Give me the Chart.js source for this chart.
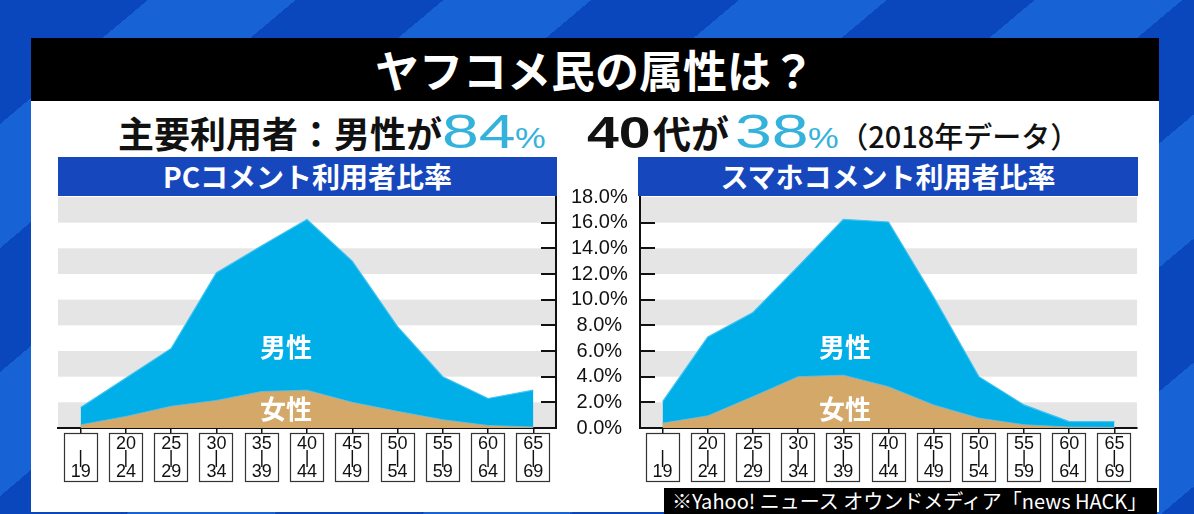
<!DOCTYPE html>
<html><head><meta charset="utf-8">
<script src="https://cdn.jsdelivr.net/npm/chart.js@4.4.0/dist/chart.umd.min.js"></script>
<style>
html,body{margin:0;padding:0;}
body{width:1194px;height:514px;overflow:hidden;position:relative;
 background:repeating-linear-gradient(140deg,#0b47bc 0px,#0b47bc 95px,#1762d4 95px,#1762d4 190px);
 font-family:"Noto Sans CJK JP","Noto Sans",sans-serif;}
.abs{position:absolute;}
#panel{left:31px;top:38px;width:1128px;height:474px;background:#fff;}
#titlebar{left:31px;top:38px;width:1128px;height:63px;background:#000;color:#fff;font-size:44px;font-weight:700;line-height:63px;text-align:center;}
#sub{left:118px;top:104px;height:54px;white-space:nowrap;color:#111;font-weight:700;font-size:36px;display:flex;align-items:baseline;}
#sub span{display:inline-block;}
.dg{font-family:"Liberation Sans",Arial,sans-serif;font-size:48px;transform-origin:0 0;}
.cy{color:#35b2dc;font-weight:400;}
.pct{font-family:"Liberation Sans",Arial,sans-serif;color:#35b2dc;font-weight:400;font-size:30px;transform:scaleX(1.15);transform-origin:0 0;}
.yr{font-weight:500;font-size:29px;}
.hdr{top:157px;height:39px;background:#1747bd;color:#fff;font-size:28px;font-weight:700;line-height:39px;text-align:center;white-space:nowrap;}
.lbl{color:#fff;font-size:26px;font-weight:700;transform:translate(-50%,-50%);white-space:nowrap;}
#foot{left:664px;top:488px;width:493px;height:26px;background:#000;color:#fff;font-size:20px;line-height:26px;padding-left:8px;box-sizing:border-box;white-space:nowrap;overflow:hidden;}
canvas{position:absolute;}
</style></head>
<body>
<div id="panel" class="abs"></div>
<div id="titlebar" class="abs">ヤフコメ民の属性は？</div>
<div id="sub" class="abs"><span>主要利用者：男性が</span><span class="dg cy" style="transform:scaleX(1.38);margin-right:20px">84</span><span class="pct" style="margin-right:45px">%</span><span class="dg" style="font-weight:700;font-size:44px;transform:scaleX(1.3);margin-right:17px">40</span><span style="font-size:38px;margin-right:6px">代が</span><span class="dg cy" style="transform:scaleX(1.38);margin-right:20px">38</span><span class="pct" style="margin-right:4px">%</span><span class="yr">（2018年データ）</span></div>
<div class="abs hdr" style="left:58px;width:499px;">PCコメント利用者比率</div>
<div class="abs hdr" style="left:638px;width:500px;">スマホコメント利用者比率</div>
<canvas id="pc" width="590" height="345" style="left:48px;top:155px;"></canvas>
<canvas id="sp" width="517" height="323" style="left:630px;top:177px;"></canvas>
<div class="abs lbl" style="left:286px;top:345px;">男性</div>
<div class="abs lbl" style="left:286px;top:407px;">女性</div>
<div class="abs lbl" style="left:845px;top:345px;">男性</div>
<div class="abs lbl" style="left:845px;top:407px;">女性</div>
<div id="foot" class="abs">※Yahoo! ニュース オウンドメディア「news HACK」</div>
<script>
// ---- data ----
const ageGroups = ['-19','20-24','25-29','30-34','35-39','40-44','45-49','50-54','55-59','60-64','65-69'];
const pcMale    = [1.6, 3.9, 6.2, 12.1, 14.2, 16.25, 13.0, 7.9, 4.0, 2.3, 2.95];
const pcFemale  = [0.25, 0.9, 1.7, 2.15, 2.85, 2.95, 2.0, 1.3, 0.65, 0.2, 0.08];
const spMale    = [2.05, 7.1, 9.0, 12.6, 16.25, 16.05, 10.2, 4.0, 1.8, 0.5, 0.5];
const spFemale  = [0.38, 0.95, 2.45, 4.0, 4.12, 3.22, 1.8, 0.77, 0.26, 0.08, 0.05];
const yMin = 0, yMax = 18, yStep = 2;
const seriesNames = ['女性','男性'];

const MALE = '#00aee8', FEMALE = '#d4a868';

const bandsPlugin = {
  id: 'bands',
  beforeDraw(chart) {
    const {ctx, chartArea: a, scales: {y}} = chart;
    ctx.save();
    ctx.fillStyle = '#e5e5e5';
    for (let v = yMin; v < yMax; v += yStep * 2) {
      const t = y.getPixelForValue(v + yStep), b = y.getPixelForValue(v);
      ctx.fillRect(a.left, t, a.right - a.left, b - t);
    }
    ctx.restore();
  }
};
const boxPlugin = {
  id: 'boxes',
  afterDraw(chart) {
    const {ctx, scales: {x}} = chart;
    ctx.save();
    ctx.strokeStyle = '#333';
    ctx.lineWidth = 1.2;
    for (let i = 0; i < x.ticks.length; i++) {
      const px = Math.round(x.getPixelForTick(i));
      ctx.strokeRect(px - 16.5, x.top + 5.5, 33, 48);
    }
    ctx.restore();
  }
};

function makeChart(id, male, female, side) {
  const isLeft = side === 'left';
  return new Chart(document.getElementById(id), {
    type: 'line',
    data: {
      labels: ageGroups,
      datasets: [
        {label: seriesNames[0], data: female, fill: 'origin', backgroundColor: FEMALE,
         borderColor: 'rgba(110,190,225,0.8)', borderWidth: 1, pointRadius: 0, tension: 0},
        {label: seriesNames[1], data: male, fill: 'origin', backgroundColor: MALE,
         borderColor: '#3fc3f0', borderWidth: 1.2, pointRadius: 0, tension: 0}
      ]
    },
    options: {
      responsive: false, animation: false, devicePixelRatio: 1,
      layout: {padding: isLeft ? {left: 10, top: 42, right: 0, bottom: 0} : {left: 0, top: 20, right: 10, bottom: 0}},
      plugins: {legend: {display: false}, tooltip: {enabled: false}},
      scales: {
        x: {
          type: 'category', offset: true, z: 1,
          border: {display: true, color: '#111', width: 2},
          grid: {drawOnChartArea: false, drawTicks: true, tickLength: 5, color: '#111', lineWidth: 1.5, offset: false},
          ticks: {
            padding: 4, maxRotation: 0, autoSkip: false, color: '#111',
            font: {family: 'Liberation Sans, Arial, sans-serif', size: 18, lineHeight: 0.77},
            callback(v, i) { const p = ageGroups[i].split('-'); return [p[0], '|', p[1]]; }
          },
          afterFit(s) { s.height = 72; }
        },
        y: {
          position: isLeft ? 'right' : 'left', min: yMin, max: yMax, z: 1,
          border: {display: true, color: '#111', width: 2},
          grid: {drawOnChartArea: false, drawTicks: true, tickLength: -15, lineWidth: 2,
                 color: c => (c.tick && (c.tick.value === yMax || c.tick.value === yMin)) ? 'rgba(0,0,0,0)' : '#111'},
          ticks: {
            display: isLeft, stepSize: yStep, autoSkip: false, padding: 30, crossAlign: 'center', color: '#111',
            font: {family: 'Liberation Sans, Arial, sans-serif', size: 20, lineHeight: 1},
            callback: v => v.toFixed(1) + '%'
          },
          afterFit(s) { s.width = isLeft ? 82 : 10; }
        }
      }
    },
    plugins: [bandsPlugin, boxPlugin]
  });
}
makeChart('pc', pcMale, pcFemale, 'left');
makeChart('sp', spMale, spFemale, 'right');
</script>
</body></html>
